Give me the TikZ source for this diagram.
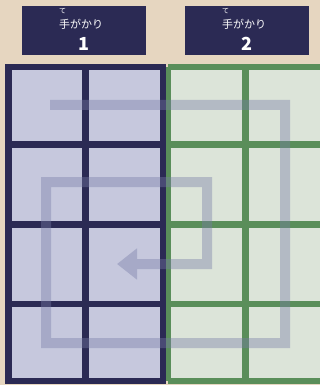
\documentclass[tikz,border=0pt]{standalone}
\usepackage{fontspec}
\newfontfamily\jpfont{Noto Sans CJK JP}
\usetikzlibrary{arrows.meta,positioning}
\definecolor{gpSand}{HTML}{E6D6C0}
\definecolor{gpNavy}{HTML}{2B2A54}
\definecolor{gpLilac}{HTML}{C6C8DD}
\definecolor{gpGreen}{HTML}{5A8E5A}
\definecolor{gpMint}{HTML}{DCE4D9}
\definecolor{gpTrail}{HTML}{767CA6}
\tikzset{
  cluebox/.style ={fill=gpNavy,minimum width=124pt,minimum height=49pt,inner sep=0pt},
  rubytxt/.style ={text=white,font=\jpfont\fontsize{7}{8}\selectfont,inner sep=0pt},
  cluetxt/.style ={text=white,font=\jpfont\fontsize{11}{12}\selectfont,inner sep=0pt},
  cluenum/.style ={text=white,font=\jpfont\bfseries\fontsize{18}{20}\selectfont,inner sep=0pt},
  navyline/.style={gpNavy,line width=6.5pt},
  greenline/.style={gpGreen,line width=6.5pt},
  trail/.style   ={gpTrail,line width=10pt,line join=miter,
                   -{Triangle[length=20pt,width=30pt]}},
}
\begin{document}
\begin{tikzpicture}[x=1pt,y=-1pt]
\fill[gpSand] (0,0) rectangle (320,385);
\useasboundingbox (0,0) rectangle (320,385);

% clue headers
\node[cluebox] (clue1) at (84,30.5) {};
\node[cluebox] (clue2) at (247,30.5) {};
\foreach \n/\x in {1/84,2/247}{
  \node[rubytxt] (ruby\n) at (\x-21.5,11.5) {て};
  \node[cluetxt] (word\n) at (\x-3,24) {手がかり};
  \node[cluenum] (num\n)  at (\x,43.5) {\n};
}

% cell fills
\fill[gpMint]  (168,67) rectangle (320,381);
\fill[gpLilac] (8.5,67) rectangle (163,381);

% green grid
\foreach \y in {67,144.5,224.5,304,381}
  \draw[greenline] (168,\y) -- (320,\y);
\foreach \x in {168,245.5}
  \draw[greenline] (\x,67) -- (\x,381);

% navy grid
\foreach \y in {67,144.5,224.5,304,381}
  \draw[navyline] (5.25,\y) -- (166.25,\y);
\foreach \x in {8.5,85.5,163}
  \draw[navyline] (\x,67) -- (\x,381);

% spiral trail
\coordinate (t0) at (50,105);
\coordinate (t1) at (285,105);
\coordinate (t2) at (285,343);
\coordinate (t3) at (46,343);
\coordinate (t4) at (46,182);
\coordinate (t5) at (207,182);
\coordinate (t6) at (207,264);
\coordinate (t7) at (117,264);
\begin{scope}[transparency group,opacity=0.4]
\draw[trail] (t0) -- (t1) -- (t2) -- (t3) -- (t4) -- (t5) -- (t6) -- (t7);
\end{scope}
\end{tikzpicture}
\end{document}
